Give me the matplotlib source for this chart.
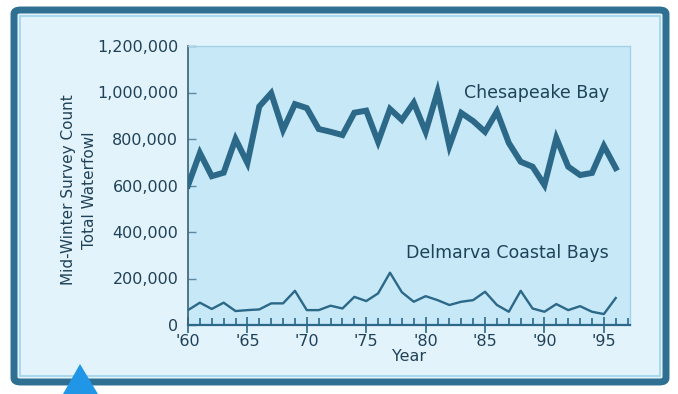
import matplotlib
matplotlib.use("Agg")
import matplotlib.pyplot as plt
from matplotlib.patches import FancyBboxPatch, Polygon, Rectangle
from matplotlib.ticker import FuncFormatter, MultipleLocator

plt.rcParams['font.family'] = ['DejaVu Sans']

# data
years = list(range(1960, 1997))
chesapeake = [600000, 740000, 640000, 655000, 800000, 697000, 940000, 997000, 839000, 950000,
              933000, 843000, 831000, 817000, 913000, 922000, 788000, 929000, 882000, 956000,
              831000, 1003000, 770000, 912000, 877000, 831000, 918000, 783000, 702000, 681000,
              602000, 804000, 681000, 645000, 654000, 770000, 675000]
delmarva = [64000, 96000, 69000, 96000, 60000, 64000, 67000, 93000, 93000, 147000,
            64000, 64000, 83000, 71000, 121000, 103000, 136000, 225000, 141000, 100000,
            124000, 107000, 86000, 100000, 107000, 143000, 86000, 57000, 147000, 71000,
            57000, 90000, 64000, 81000, 57000, 47000, 116000]
major_years = [1960, 1965, 1970, 1975, 1980, 1985, 1990, 1995]
y_ticks = [0, 200000, 400000, 600000, 800000, 1000000, 1200000]

text_col = '#1f4258'
line_col = '#2c6888'

W, H = 678, 394
fig = plt.figure(figsize=(W / 100, H / 100), dpi=100)
fig.patch.set_facecolor('white')

# outer frame
frame = FancyBboxPatch((14 / W, 12 / H), 652 / W, 372 / H,
                       boxstyle="round,pad=0,rounding_size=0.01",
                       transform=fig.transFigure, facecolor='#e3f3fb',
                       edgecolor='#2f6f92', linewidth=5, zorder=0)
fig.patches.append(frame)
inner = Rectangle((20 / W, 18 / H), 640 / W, 360 / H, transform=fig.transFigure,
                  facecolor='none', edgecolor='#9fd3ea', linewidth=1.2, zorder=0)
fig.patches.append(inner)

# blue pointer at bottom left
tri = Polygon([(63 / W, 0), (98 / W, 0), (80 / W, 30 / H)], closed=True,
              transform=fig.transFigure, facecolor='#2196e6', edgecolor='none', zorder=1)
fig.patches.append(tri)

ax = fig.add_axes([188 / W, 1 - 325 / H, 442 / W, 279 / H])
ax.set_zorder(3)
ax.set_facecolor('#c6e8f7')

ax.plot(years, chesapeake, color=line_col, lw=4.3, solid_joinstyle='miter', zorder=3)
ax.plot(years, delmarva, color=line_col, lw=1.7, zorder=3)

ax.set_xlim(1960, 1997.2)
ax.set_ylim(0, 1200000)

ax.set_yticks(y_ticks)
ax.yaxis.set_major_formatter(FuncFormatter(lambda v, p: f'{int(v):,}'))
ax.set_xticks(major_years)
ax.set_xticklabels(["'" + str(y)[2:] for y in major_years])
ax.xaxis.set_minor_locator(MultipleLocator(1))

ax.tick_params(axis='y', direction='in', length=6, width=1, color='#5d8aa3',
               labelsize=11.5, labelcolor=text_col, pad=7)
ax.tick_params(axis='x', which='major', direction='inout', length=11, width=1.2,
               color=line_col, labelsize=11.5, labelcolor=text_col, pad=1)
ax.tick_params(axis='x', which='minor', direction='in', length=5, width=1.2, color=line_col)

for s in ['top', 'right']:
    ax.spines[s].set_color('#a5d2e6')
    ax.spines[s].set_linewidth(1)
ax.spines['left'].set_color('#3d5f73')
ax.spines['left'].set_linewidth(1.2)
ax.spines['bottom'].set_color(line_col)
ax.spines['bottom'].set_linewidth(1.6)

ax.text(1989.3, 1000000, 'Chesapeake Bay', color=text_col, fontsize=12.5,
        ha='center', va='center')
ax.text(1986.9, 310000, 'Delmarva Coastal Bays', color=text_col, fontsize=12.5,
        ha='center', va='center')

ax.set_xlabel('Year', color=text_col, fontsize=11.5, labelpad=0)
fig.text(68 / W, 1 - 190 / H, 'Mid-Winter Survey Count', rotation=90, color=text_col,
         fontsize=11, ha='center', va='center')
fig.text(89 / W, 1 - 190 / H, 'Total Waterfowl', rotation=90, color=text_col,
         fontsize=11, ha='center', va='center')

fig.savefig('out.png', dpi=100)
